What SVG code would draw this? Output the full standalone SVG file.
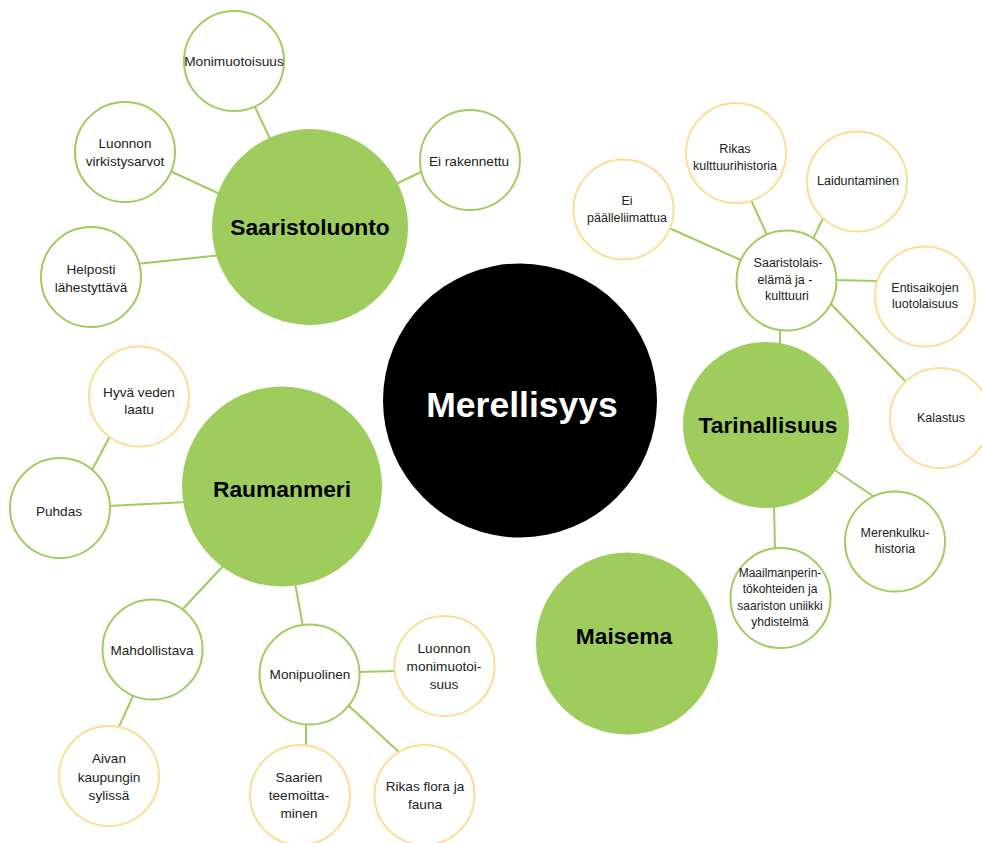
<svg xmlns="http://www.w3.org/2000/svg" width="982" height="843" viewBox="0 0 982 843">
<style>
.bg{fill:#ffffff}
.ln{stroke:#9ecd5e;stroke-width:2;fill:none}
.g{fill:#ffffff;stroke:#9ecd5e;stroke-width:2}
.y{fill:#ffffff;stroke:#fddc94;stroke-width:2}
.big{fill:#9ecd5e}
.t{font-family:"Liberation Sans",Arial,sans-serif;font-size:13.6px;fill:#222222;text-anchor:middle;dominant-baseline:central}
.s{font-size:12.5px}
.h{font-family:"Liberation Sans",Arial,sans-serif;font-weight:bold;font-size:22.8px;fill:#000000;text-anchor:middle}
.m{font-family:"Liberation Sans",Arial,sans-serif;font-weight:bold;font-size:35.5px;fill:#ffffff;text-anchor:middle}
</style>
<rect class="bg" x="0" y="0" width="982" height="843"/>
<g id="connectors">
<line class="ln" x1="254" y1="105" x2="272" y2="143"/>
<line class="ln" x1="170" y1="171" x2="222" y2="195"/>
<line class="ln" x1="136" y1="264" x2="222" y2="255"/>
<line class="ln" x1="394" y1="185" x2="423" y2="171"/>
<line class="ln" x1="669" y1="228" x2="743" y2="261"/>
<line class="ln" x1="751" y1="200" x2="768" y2="237"/>
<line class="ln" x1="825" y1="214" x2="812" y2="241"/>
<line class="ln" x1="834" y1="280" x2="877" y2="281"/>
<line class="ln" x1="830" y1="303" x2="908" y2="384"/>
<line class="ln" x1="780" y1="328" x2="780" y2="347"/>
<line class="ln" x1="774" y1="504" x2="775" y2="551"/>
<line class="ln" x1="833" y1="469" x2="876" y2="498"/>
<line class="ln" x1="110" y1="436" x2="91" y2="472"/>
<line class="ln" x1="108" y1="506" x2="187" y2="502"/>
<line class="ln" x1="224" y1="565" x2="181" y2="611"/>
<line class="ln" x1="295" y1="583" x2="303" y2="627"/>
<line class="ln" x1="133" y1="696" x2="117" y2="731"/>
<line class="ln" x1="358" y1="672" x2="397" y2="671"/>
<line class="ln" x1="306" y1="722" x2="306" y2="748"/>
<line class="ln" x1="348" y1="705" x2="401" y2="754"/>
</g>
<g id="merellisyys"><circle cx="520" cy="400.5" r="137" fill="#000000"/><text class="m" x="522" y="417">Merellisyys</text></g>
<g id="saaristoluonto"><circle class="big" cx="310" cy="227" r="98"/><text class="h" x="310" y="235">Saaristoluonto</text></g>
<g id="raumanmeri"><circle class="big" cx="282" cy="486.5" r="100"/><text class="h" x="282" y="497">Raumanmeri</text></g>
<g id="tarinallisuus"><circle class="big" cx="766" cy="425" r="83"/><text class="h" x="768" y="433">Tarinallisuus</text></g>
<g id="maisema"><circle class="big" cx="627" cy="643.5" r="91"/><text class="h" x="624" y="644">Maisema</text></g>

<g id="monimuotoisuus"><circle class="g" cx="234" cy="61" r="50"/><text class="t" x="234" y="61" style="font-size:13.7px">Monimuotoisuus</text></g>
<g id="luonnon-virkistysarvot"><circle class="g" cx="125" cy="152" r="50"/><text class="t" x="125" y="143">Luonnon</text><text class="t" x="125" y="161">virkistysarvot</text></g>
<g id="helposti"><circle class="g" cx="91" cy="277" r="50"/><text class="t" x="91" y="269">Helposti</text><text class="t" x="91" y="287">lähestyttävä</text></g>
<g id="ei-rakennettu"><circle class="g" cx="470" cy="160" r="50"/><text class="t" x="469" y="161">Ei rakennettu</text></g>

<g id="ei-paalleliimattua"><circle class="y" cx="623.5" cy="209.5" r="50"/><text class="t s" x="627" y="201">Ei</text><text class="t s" x="627" y="218">päälleliimattua</text></g>
<g id="rikas-kulttuurihistoria"><circle class="y" cx="736" cy="153" r="50"/><text class="t s" x="735" y="149">Rikas</text><text class="t s" x="735" y="166">kulttuurihistoria</text></g>
<g id="laiduntaminen"><circle class="y" cx="857" cy="181.5" r="50"/><text class="t s" x="858" y="181">Laiduntaminen</text></g>
<g id="saaristolaiselama"><circle class="g" cx="786.5" cy="280.5" r="50"/><text class="t s" x="788" y="263">Saaristolais-</text><text class="t s" x="785" y="280">elämä ja -</text><text class="t s" x="787" y="296">kulttuuri</text></g>
<g id="entisaikojen"><circle class="y" cx="925" cy="296.5" r="50"/><text class="t s" x="925" y="288">Entisaikojen</text><text class="t s" x="925" y="304">luotolaisuus</text></g>
<g id="kalastus"><circle class="y" cx="940" cy="418" r="50"/><text class="t s" x="941" y="418">Kalastus</text></g>
<g id="merenkulkuhistoria"><circle class="g" cx="895" cy="541.5" r="50"/><text class="t s" x="895" y="533">Merenkulku-</text><text class="t s" x="895" y="549">historia</text></g>
<g id="maailmanperintokohteiden"><circle class="g" cx="780.5" cy="598" r="50"/><text class="t" x="780" y="573" style="font-size:12px">Maailmanperin-</text><text class="t" x="780" y="589" style="font-size:12px">tökohteiden ja</text><text class="t" x="780" y="606" style="font-size:12px">saariston uniikki</text><text class="t" x="780" y="622" style="font-size:12px">yhdistelmä</text></g>

<g id="hyva-veden-laatu"><circle class="y" cx="139" cy="396.5" r="50"/><text class="t" x="139" y="392">Hyvä veden</text><text class="t" x="139" y="409">laatu</text></g>
<g id="puhdas"><circle class="g" cx="60" cy="508" r="50"/><text class="t" x="59" y="511">Puhdas</text></g>
<g id="mahdollistava"><circle class="g" cx="152.5" cy="649.5" r="50"/><text class="t" x="152" y="650">Mahdollistava</text></g>
<g id="aivan-kaupungin-sylissa"><circle class="y" cx="109" cy="776" r="50"/><text class="t" x="109" y="758">Aivan</text><text class="t" x="109" y="777">kaupungin</text><text class="t" x="109" y="795">sylissä</text></g>
<g id="monipuolinen"><circle class="g" cx="309.5" cy="674.5" r="50"/><text class="t" x="310" y="674">Monipuolinen</text></g>
<g id="luonnon-monimuotoisuus"><circle class="y" cx="444.5" cy="666" r="50"/><text class="t" x="444" y="648">Luonnon</text><text class="t" x="444" y="666">monimuotoi-</text><text class="t" x="444" y="684">suus</text></g>
<g id="saarien-teemoittaminen"><circle class="y" cx="300" cy="795" r="50"/><text class="t" x="299" y="777">Saarien</text><text class="t" x="299" y="795">teemoitta-</text><text class="t" x="299" y="813">minen</text></g>
<g id="rikas-flora-ja-fauna"><circle class="y" cx="424.5" cy="795" r="50"/><text class="t" x="425" y="786">Rikas flora ja</text><text class="t" x="425" y="804">fauna</text></g>
</svg>
